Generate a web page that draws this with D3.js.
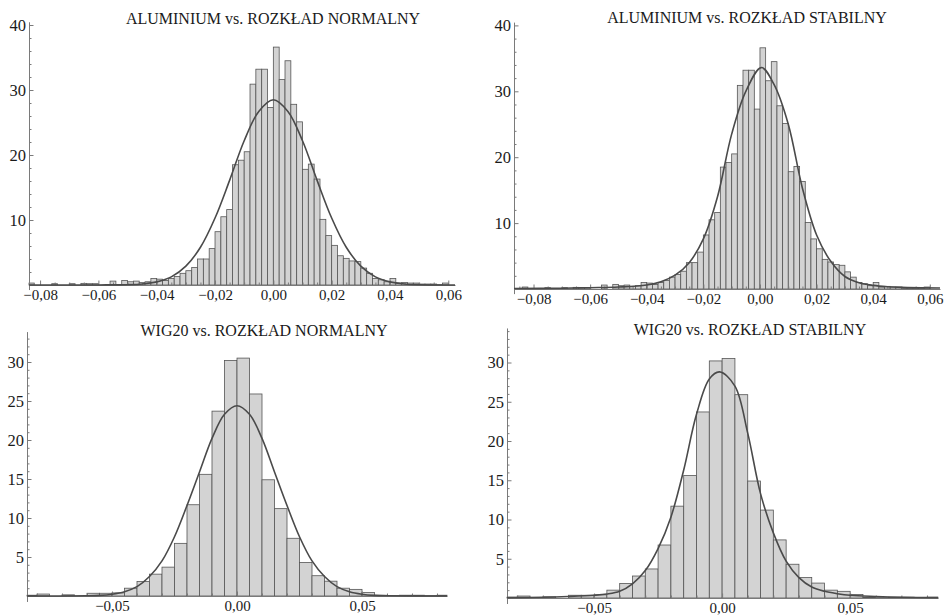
<!DOCTYPE html>
<html>
<head>
<meta charset="utf-8">
<script src="https://cdn.jsdelivr.net/npm/d3@7"></script>
<style>
  html, body { margin: 0; padding: 0; background: #fff; }
  svg { display: block; }
  .axis path, .axis line { stroke: #7a7a7a; }
  .title { font-family: "Liberation Serif", "Times New Roman", serif; font-size: 16px; fill: #1a1a1a; }
</style>
</head>
<body>
<svg id="chart" width="944" height="616"></svg>
<script>
// Histograms of daily returns vs fitted densities (normal / stable)

// ALUMINIUM: bins of width 0.002 starting at -0.084
const aluBinStart = -0.084;
const aluBinWidth = 0.002;
const aluCounts = [
  0.3, 0, 0, 0, 0.2, 0, 0, 0.2, 0, 0.25, 0.2, 0.2, 0, 0, 0.6, 0, 0.7, 0.5, 0.6, 0.4,
  0.5, 1.0, 0.9, 0.7, 1.0, 1.3, 1.8, 2.2, 2.7, 4.0, 4.0, 5.6, 8.2, 10.5, 11.6, 18.5, 19.2, 20.5,
  30.9, 33.2, 33.2, 27.3, 36.6, 31.6, 34.5, 27.8, 25.1, 17.8, 18.6, 16.3, 10.1, 7.6, 6.1,
  4.5, 4.1, 3.7, 3.6, 2.6, 1.8, 1.0, 0.8, 0.5, 1.0, 0.3, 0.4, 0.3, 0.3, 0.15, 0.15, 0.15, 0.05, 0.3
];

// WIG20: bins of width 0.005 starting at -0.085
const wigBinStart = -0.085;
const wigBinWidth = 0.005;
const wigCounts = [
  0.1, 0.25, 0, 0.15, 0, 0.35, 0.35, 0.4, 1.0, 1.85, 2.8, 3.7, 6.75, 11.7, 15.6, 23.7, 30.2,
  30.5, 25.9, 14.9, 11.2, 7.4, 4.3, 2.6, 1.9, 1.0, 0.85, 0.45, 0.1, 0.05, 0.1, 0.1, 0.05, 0.1
];

// fitted density curves [x, density]
const aluNormal = [
  [-0.0838, 0], [-0.06, 0.01], [-0.05, 0.05], [-0.045, 0.16], [-0.04, 0.48], [-0.035, 1.25],
  [-0.03, 2.9], [-0.025, 5.8], [-0.02, 10.3], [-0.015, 16.1], [-0.01, 22.2], [-0.005, 26.7],
  [0, 28.5], [0.005, 26.7], [0.01, 22.2], [0.015, 16.1], [0.02, 10.3], [0.025, 5.8],
  [0.03, 2.9], [0.035, 1.25], [0.04, 0.48], [0.045, 0.16], [0.05, 0.05], [0.0623, 0]
];
const aluStable = [
  [-0.0869, 0.08], [-0.07, 0.12], [-0.06, 0.2], [-0.05, 0.3], [-0.04, 0.6], [-0.035, 1.1],
  [-0.03, 2.1], [-0.025, 4.0], [-0.02, 7.6], [-0.015, 14.0], [-0.01, 23.5], [-0.005, 30.0],
  [0.0005, 33.6], [0.005, 31.0], [0.01, 25.0], [0.015, 15.3], [0.02, 8.2], [0.025, 4.2],
  [0.03, 1.9], [0.035, 0.95], [0.04, 0.55], [0.045, 0.35], [0.05, 0.25], [0.0636, 0.15]
];
const wigNormal = [
  [-0.084, 0], [-0.06, 0.03], [-0.055, 0.08], [-0.05, 0.23], [-0.045, 0.55], [-0.04, 1.2],
  [-0.035, 2.5], [-0.03, 4.5], [-0.025, 7.6], [-0.02, 11.6], [-0.015, 15.9], [-0.01, 20.2],
  [-0.005, 23.3], [0, 24.4], [0.005, 23.3], [0.01, 20.2], [0.015, 15.9], [0.02, 11.6],
  [0.025, 7.6], [0.03, 4.5], [0.035, 2.5], [0.04, 1.2], [0.045, 0.55], [0.05, 0.23],
  [0.055, 0.08], [0.06, 0.03], [0.084, 0]
];
const wigStable = [
  [-0.084, 0.05], [-0.07, 0.1], [-0.06, 0.2], [-0.05, 0.35], [-0.045, 0.5], [-0.04, 0.85],
  [-0.035, 1.8], [-0.03, 3.5], [-0.025, 6.3], [-0.02, 10.3], [-0.015, 16.3], [-0.01, 23.4],
  [-0.005, 27.9], [-0.001, 28.8], [0.005, 27.0], [0.01, 21.0], [0.015, 13.3], [0.02, 8.3],
  [0.025, 4.7], [0.03, 2.6], [0.035, 1.4], [0.04, 0.85], [0.045, 0.55], [0.05, 0.35],
  [0.06, 0.2], [0.07, 0.1], [0.0843, 0.05]
];

// ticks
const aluXTicks = [-0.08, -0.06, -0.04, -0.02, 0, 0.02, 0.04, 0.06];
const aluXLabels = ["−0,08", "−0,06", "−0,04", "−0,02", "0,00", "0,02", "0,04", "0,06"];
const aluYTicks = [10, 20, 30, 40];
const aluYLabels = ["10", "20", "30", "40"];
const wigXTicks = [-0.05, 0, 0.05];
const wigXLabels = ["−0,05", "0,00", "0,05"];
const wigYTicks = [5, 10, 15, 20, 25, 30];
const wigYLabels = ["5", "10", "15", "20", "25", "30"];

const titles = [
  "ALUMINIUM vs. ROZKŁAD NORMALNY",
  "ALUMINIUM vs. ROZKŁAD STABILNY",
  "WIG20 vs. ROZKŁAD NORMALNY",
  "WIG20 vs. ROZKŁAD STABILNY"
];

const serif = '"Liberation Serif", "Times New Roman", serif';
const svg = d3.select("#chart");

// panel layout (pixels)
const panels = [
  { title: titles[0], titleX: 273, titleY: 24, left: 29, right: 455, xDom: [-0.0838, 0.0623],
    y0: 285, pxPerUnit: 6.5, yMax: 40.5, counts: aluCounts, binStart: aluBinStart, binWidth: aluBinWidth,
    curve: aluNormal, xTicks: aluXTicks, xLabels: aluXLabels, yTicks: aluYTicks, yLabels: aluYLabels,
    xMinor: 0.005, yMinor: 2 },
  { title: titles[1], titleX: 747, titleY: 23, left: 514, right: 940, xDom: [-0.0869, 0.0636],
    y0: 289, pxPerUnit: 6.59, yMax: 40.5, counts: aluCounts, binStart: aluBinStart, binWidth: aluBinWidth,
    curve: aluStable, xTicks: aluXTicks, xLabels: aluXLabels, yTicks: aluYTicks, yLabels: aluYLabels,
    xMinor: 0.005, yMinor: 2 },
  { title: titles[2], titleX: 264, titleY: 336, left: 27, right: 447, xDom: [-0.084, 0.084],
    y0: 596, pxPerUnit: 7.8, yMax: 33.9, counts: wigCounts, binStart: wigBinStart, binWidth: wigBinWidth,
    curve: wigNormal, xTicks: wigXTicks, xLabels: wigXLabels, yTicks: wigYTicks, yLabels: wigYLabels,
    xMinor: 0.01, yMinor: 1 },
  { title: titles[3], titleX: 750, titleY: 335, left: 507, right: 938, xDom: [-0.084, 0.0843],
    y0: 598, pxPerUnit: 7.85, yMax: 34.4, counts: wigCounts, binStart: wigBinStart, binWidth: wigBinWidth,
    curve: wigStable, xTicks: wigXTicks, xLabels: wigXLabels, yTicks: wigYTicks, yLabels: wigYLabels,
    xMinor: 0.01, yMinor: 1 }
];

panels.forEach((p) => drawPanel(p));

function drawPanel(p) {
  const yMin = -0.7;
  const x = d3.scaleLinear().domain(p.xDom).range([p.left, p.right]);
  const y = d3.scaleLinear()
    .domain([yMin, p.yMax])
    .range([p.y0 - yMin * p.pxPerUnit, p.y0 - p.yMax * p.pxPerUnit]);

  const g = svg.append("g");

  // bars
  const bins = p.counts
    .map((c, i) => ({ x0: p.binStart + i * p.binWidth, x1: p.binStart + (i + 1) * p.binWidth, c }))
    .filter((d) => d.c > 0);

  g.selectAll("rect")
    .data(bins)
    .enter()
    .append("rect")
    .attr("x", (d) => x(Math.max(d.x0, p.xDom[0])))
    .attr("width", (d) => x(Math.min(d.x1, p.xDom[1])) - x(Math.max(d.x0, p.xDom[0])))
    .attr("y", (d) => y(d.c))
    .attr("height", (d) => y(0) - y(d.c))
    .attr("fill", "#d3d3d3")
    .attr("stroke", "#555")
    .attr("stroke-width", 0.8);

  // minor ticks
  const xMinorVals = d3.range(Math.ceil(p.xDom[0] / p.xMinor) * p.xMinor, p.xDom[1], p.xMinor)
    .filter((v) => !p.xTicks.some((t) => Math.abs(t - v) < 1e-9));
  const yMinorVals = d3.range(p.yMinor, p.yMax, p.yMinor)
    .filter((v) => !p.yTicks.some((t) => Math.abs(t - v) < 1e-9));

  g.append("g")
    .attr("class", "axis")
    .attr("transform", `translate(0,${y(0)})`)
    .call(d3.axisBottom(x).tickValues(xMinorVals).tickSizeInner(-2.5).tickSizeOuter(0).tickFormat(""))
    .call((a) => a.select(".domain").remove());

  g.append("g")
    .attr("class", "axis")
    .attr("transform", `translate(${p.left},0)`)
    .call(d3.axisLeft(y).tickValues(yMinorVals).tickSizeInner(-2.5).tickSizeOuter(0).tickFormat(""))
    .call((a) => a.select(".domain").remove());

  // major axes
  g.append("g")
    .attr("class", "axis x-axis")
    .attr("transform", `translate(0,${y(0)})`)
    .call(
      d3.axisBottom(x)
        .tickValues(p.xTicks)
        .tickSizeInner(-4.5)
        .tickSizeOuter(0)
        .tickPadding(4)
        .tickFormat((d, i) => p.xLabels[i])
    )
    .attr("font-family", serif)
    .attr("font-size", 15)
    .call((a) => a.selectAll("text").attr("fill", "#1a1a1a"));

  g.append("g")
    .attr("class", "axis y-axis")
    .attr("transform", `translate(${p.left},0)`)
    .call(
      d3.axisLeft(y)
        .tickValues(p.yTicks)
        .tickSizeInner(-4.5)
        .tickSizeOuter(0)
        .tickPadding(3)
        .tickFormat((d, i) => p.yLabels[i])
    )
    .attr("font-family", serif)
    .attr("font-size", 16.5)
    .call((a) => a.selectAll("text").attr("fill", "#1a1a1a"));

  // density curve
  const line = d3.line()
    .x((d) => x(d[0]))
    .y((d) => y(d[1]))
    .curve(d3.curveCatmullRom.alpha(0.5));

  g.append("path")
    .datum(p.curve)
    .attr("d", line)
    .attr("fill", "none")
    .attr("stroke", "#4a4a4a")
    .attr("stroke-width", 1.6);

  g.append("text")
    .attr("class", "title")
    .attr("x", p.titleX)
    .attr("y", p.titleY)
    .attr("text-anchor", "middle")
    .text(p.title);
}
</script>
</body>
</html>
